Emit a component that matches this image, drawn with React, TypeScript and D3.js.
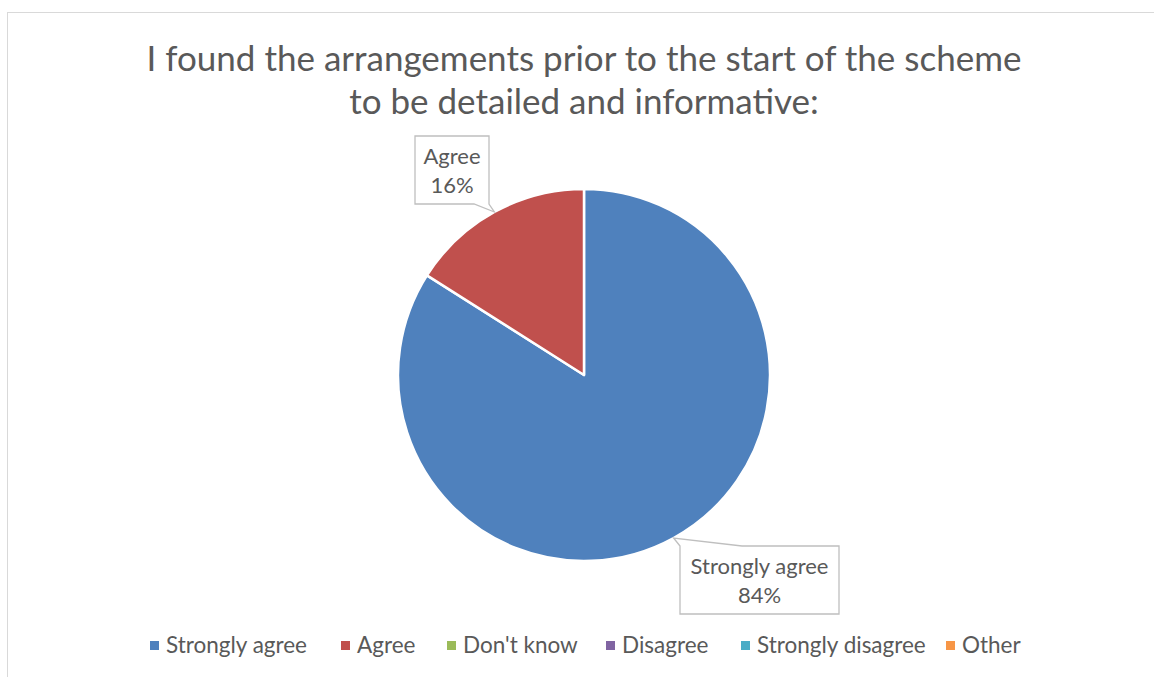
import React from "react";
import * as d3 from "d3";

const categories = ["Strongly agree", "Agree", "Don't know", "Disagree", "Strongly disagree", "Other"];
const values = [84, 16, 0, 0, 0, 0];
const colors = ["#4F81BD", "#C0504D", "#9BBB59", "#8064A2", "#4BACC6", "#F79646"];
const titleLines = ["I found the arrangements prior to the start of the scheme", "to be detailed and informative:"];

const W = 1154, H = 677;
const FONT = "Lato, 'Open Sans', sans-serif";
const TEXT = "#595959";

export default function App() {
  const cx = 584, cy = 375, r = 186;
  const pieCw = d3.pie<number>().sort(null).value((d) => d);
  const arcs = pieCw(values);
  const arc = d3.arc<d3.PieArcDatum<number>>().innerRadius(0).outerRadius(r);

  const callouts: Record<number, { x: number; y: number; w: number; h: number; edge: "top" | "bottom"; wx: [number, number] }> = {
    0: { x: 680, y: 546, w: 159, h: 68, edge: "top", wx: [680, 742] },
    1: { x: 415, y: 136, w: 74, h: 68, edge: "bottom", wx: [474, 489] },
  };

  const legendX = [150, 341, 447, 606, 741, 946];

  return (
    <svg width={W} height={H} style={{ position: "absolute", left: 0, top: 0 }}>
      <rect x={0} y={0} width={W} height={H} fill="#fff" />
      <rect x={7.5} y={12.5} width={W + 20} height={H + 20} fill="#fff" stroke="#d9d9d9" strokeWidth={1} />
      {titleLines.map((t, i) => (
        <text key={i} x={584} y={71 + i * 43} textAnchor="middle" fontFamily={FONT} fontSize={35} fill={TEXT}>{t}</text>
      ))}
      <g transform={`translate(${cx},${cy})`}>
        {arcs.map((a, i) => a.value > 0 && (
          <path key={i} d={arc(a) || ""} fill={colors[i]} stroke="#fff" strokeWidth={2.5} strokeLinejoin="round" />
        ))}
      </g>
      {arcs.map((a, i) => {
        if (a.value <= 0) return null;
        const c = callouts[i];
        const mid = (a.startAngle + a.endAngle) / 2;
        const px = cx + r * Math.sin(mid);
        const py = cy - r * Math.cos(mid);
        const { x, y, w, h } = c;
        let d: string;
        if (c.edge === "top") {
          d = `M${x},${y} L${px},${py} L${c.wx[1]},${y} L${x + w},${y} L${x + w},${y + h} L${x},${y + h} Z`;
        } else {
          d = `M${x},${y} L${x + w},${y} L${x + w},${y + h} L${px},${py} L${c.wx[0]},${y + h} L${x},${y + h} Z`;
        }
        const total = d3.sum(values);
        const pct = Math.round((a.value / total) * 100) + "%";
        return (
          <g key={"c" + i}>
            <path d={d} fill="#fff" stroke="#bfbfbf" strokeWidth={1.3} />
            <text x={x + w / 2} y={y + 28} textAnchor="middle" fontFamily={FONT} fontSize={22} fill={TEXT}>{categories[i]}</text>
            <text x={x + w / 2} y={y + 57} textAnchor="middle" fontFamily={FONT} fontSize={22} fill={TEXT}>{pct}</text>
          </g>
        );
      })}
      {categories.map((c, i) => (
        <g key={"l" + i} transform={`translate(${legendX[i]},645)`}>
          <rect x={0} y={-4} width={9} height={9} fill={colors[i]} />
          <text x={16} y={8} fontFamily={FONT} fontSize={22.5} fill={TEXT}>{c}</text>
        </g>
      ))}
    </svg>
  );
}
